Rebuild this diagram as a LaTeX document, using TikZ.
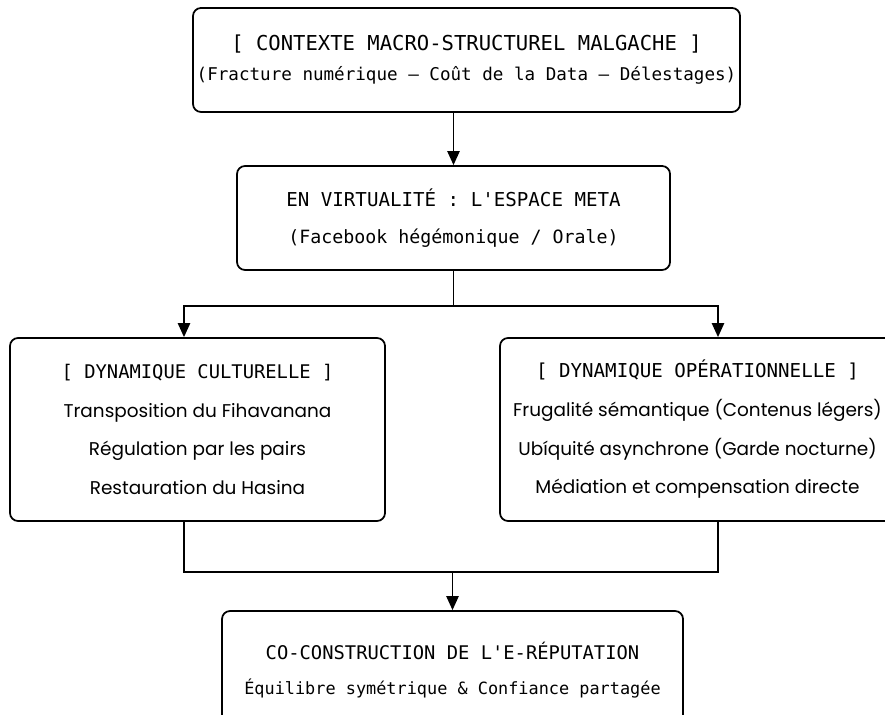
\documentclass[tikz,border=0pt]{standalone}
\usepackage{fontspec}
\setmainfont{Poppins}
\setmonofont{DejaVu Sans Mono}
\usetikzlibrary{arrows.meta, positioning}

\newcommand{\capsline}[2][11]{{\ttfamily\fontsize{#1}{22}\selectfont #2}}
\newcommand{\monoline}[2][10]{{\ttfamily\fontsize{#1}{22}\selectfont #2}}

\begin{document}
\begin{tikzpicture}[
    block/.style={rectangle, draw, rounded corners=0.16cm, line width=1pt,
        align=center, inner sep=0pt, font=\fontsize{10.5}{22}\selectfont},
    link/.style={line width=1pt},
    >={Triangle[length=8pt, width=7pt]}
]
\useasboundingbox (0,0) rectangle (17.7,-14.3);

% Boxes
\node[block, minimum width=10.94cm, minimum height=2.08cm, font=\fontsize{10}{17}\selectfont]
    (contexte) at (9.33,-1.2)
    {\capsline[11.7]{[ CONTEXTE MACRO-STRUCTUREL MALGACHE ]}\\
     \monoline{(Fracture numérique – Coût de la Data – Délestages)}};
\node[block, minimum width=8.66cm, minimum height=2.08cm, font=\fontsize{10}{21}\selectfont]
    (meta) at (9.07,-4.36)
    {\capsline[10.9]{EN VIRTUALITÉ : L'ESPACE META}\\
     \monoline[10.4]{(Facebook hégémonique / Orale)}};
\node[block, minimum width=7.5cm, minimum height=3.66cm] (culturelle) at (3.95,-8.59)
    {\capsline[10.7]{[ DYNAMIQUE CULTURELLE ]}\\
     Transposition du Fihavanana\\
     Régulation par les pairs\\
     Restauration du Hasina};
\node[block, minimum width=7.9cm, minimum height=3.66cm] (operationnelle) at (13.95,-8.59)
    {\capsline[10.9]{[ DYNAMIQUE OPÉRATIONNELLE ]}\\
     Frugalité sémantique (Contenus légers)\\
     Ubíquité asynchrone (Garde nocturne)\\
     Médiation et compensation directe};
\node[block, minimum width=9.22cm, minimum height=2.38cm, font=\fontsize{10}{20}\selectfont]
    (coconstruction) at (9.05,-13.41)
    {\capsline[10.7]{CO-CONSTRUCTION DE L'E-RÉPUTATION}\\
     \monoline[9.6]{Équilibre symétrique \& Confiance partagée}};

% Context to Meta
\draw[link, ->] (contexte.south -| meta.north) -- (meta.north);

% Split towards the two dynamics
\draw[link] (meta.south) -- ++(0,-0.7) coordinate (split);
\draw[link, ->] (split) -| ([xshift=-0.27cm]culturelle.north);
\draw[link, ->] (split) -| ([xshift=0.41cm]operationnelle.north);

% Merge into the co-construction
\draw[link] ([xshift=-0.27cm]culturelle.south) -- ++(0,-1.0) coordinate (merge)
    -| ([xshift=0.41cm]operationnelle.south);
\draw[link, ->] (coconstruction.north |- merge) -- (coconstruction.north);

\end{tikzpicture}
\end{document}
